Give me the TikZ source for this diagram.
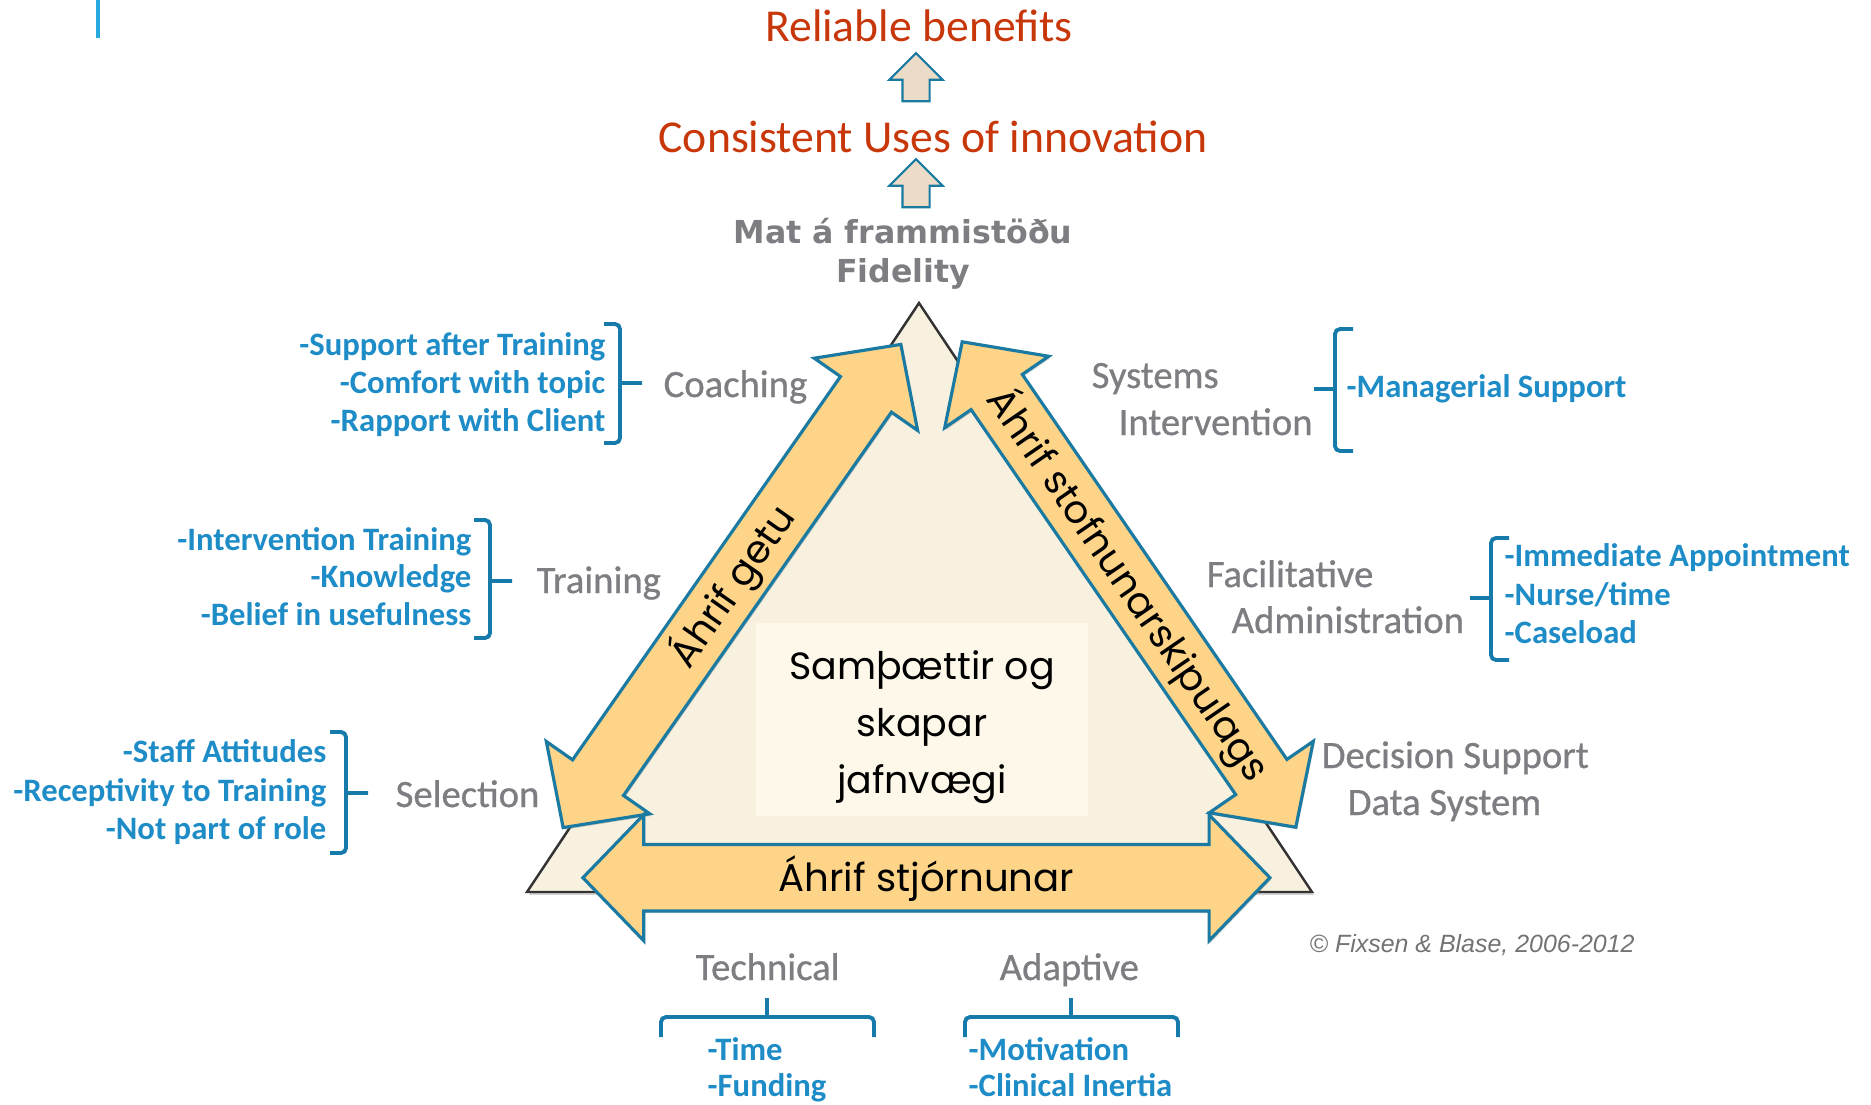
\documentclass[tikz,border=0pt]{standalone}
\usepackage{fontspec}
\setmainfont{Carlito}
\newfontfamily\labelfont[FakeBold=0.7]{Carlito}
\newfontfamily\geofont{Poppins}
\newfontfamily\verdfont{DejaVu Sans}
\newfontfamily\copyfont{Liberation Sans}
\usetikzlibrary{shapes.arrows,shadows}

\definecolor{titlered}{RGB}{200,55,10}
\definecolor{itemblue}{RGB}{30,140,198}
\definecolor{brakblue}{RGB}{22,122,170}
\definecolor{edgeblue}{RGB}{26,122,162}
\definecolor{labelgray}{RGB}{125,125,130}
\definecolor{arrowfill}{RGB}{253,212,136}
\definecolor{trifill}{RGB}{248,241,224}
\definecolor{boxfill}{RGB}{254,248,234}
\definecolor{upfill}{RGB}{235,220,200}
\definecolor{topline}{RGB}{40,170,225}

\tikzset{
  headline/.style={font=\fontsize{13pt}{15pt}\selectfont, text=titlered, inner sep=0pt},
  fid/.style={font=\verdfont\bfseries\fontsize{9pt}{11pt}\selectfont, text=labelgray, inner sep=0pt},
  grp/.style={font=\labelfont\fontsize{11pt}{13pt}\selectfont, text=labelgray, inner sep=0pt},
  itm/.style={font=\bfseries\fontsize{9.3pt}{11pt}\selectfont, text=itemblue, inner sep=0pt},
  copyr/.style={font=\copyfont\itshape\fontsize{7.1pt}{9pt}\selectfont, text=black!55, inner sep=0pt},
  brak/.style={draw=brakblue, line width=1.1pt, rounded corners=0.5mm},
  tri/.style={draw=black!80, fill=trifill, line width=0.7pt, line join=miter,
    drop shadow={opacity=0.35, shadow xshift=0.5pt, shadow yshift=-0.8pt}},
  centerbox/.style={fill=boxfill, minimum width=33.2mm, minimum height=19.3mm, inner sep=0pt,
    align=center, font=\geofont\fontsize{10.8pt}{16.2pt}\selectfont},
  uparrow/.style={single arrow, draw=edgeblue, fill=upfill, line width=0.6pt, rotate=90,
    minimum height=4.8mm, inner sep=0pt, inner ysep=1.25mm,
    single arrow head extend=1.3mm, single arrow tip angle=90},
  % the text sits in a box of no width, so the arrow keeps its length
  bigarrow/.style={double arrow, draw=edgeblue, fill=arrowfill, line width=0.9pt,
    font=\geofont\fontsize{11pt}{13pt}\selectfont, text height=3.5mm, text depth=0.8mm,
    inner xsep=0pt, inner ysep=0.8mm, double arrow head extend=3.2mm,
    double arrow tip angle=92,
    drop shadow={opacity=0.35, shadow xshift=0.4pt, shadow yshift=-0.6pt}},
}

\begin{document}
\begin{tikzpicture}[x=0.1mm,y=-0.1mm]
\useasboundingbox (0,0) rectangle (1871,1104);
\draw[topline, line width=0.9pt] (98,0) -- (98,38);

% outcomes
\node[headline, anchor=base] (benefits) at (919,41) {Reliable benefits};
\node[headline, anchor=base] (uses) at (933,152) {Consistent Uses of innovation};
\node[uparrow] (up1) at (916,84) {};
\node[uparrow] (up2) at (916,190) {};
\node[fid, anchor=base] (mat) at (903,243) {Mat á frammistöðu};
\node[fid, anchor=base] (fidelity) at (903,282) {Fidelity};

% the triangle
\draw[tri] (527,892) -- (1312,892) -- (919,303) -- cycle;
\node[centerbox] (balance) at (922,719) {\rule{0pt}{4.6mm}Samþættir og\\skapar\\jafnvægi};

% drivers along the sides
\node[bigarrow, minimum height=58.95mm, rotate=55.05] (competency) at (732,586)
  {\makebox[0pt]{Áhrif getu}};
\node[bigarrow, minimum height=58.9mm, rotate=-55.5] (organization) at (1129,584.5)
  {\makebox[0pt]{Áhrif stofnunarskipulags}};
\node[bigarrow, minimum height=68.7mm, inner ysep=1.02mm, double arrow head extend=2.97mm] (leadership) at (926.4,877.7)
  {\makebox[0pt]{Áhrif stjórnunar}};

% component names
\node[grp, anchor=base west] (coaching) at (663,397) {Coaching};
\node[grp, anchor=base west] (training) at (536,593) {Training};
\node[grp, anchor=base west] (selection) at (395,807) {Selection};
\node[grp, anchor=base west] (systems) at (1091,388) {Systems};
\node[grp, anchor=base west] (intervention) at (1118,435) {Intervention};
\node[grp, anchor=base west] (facilitative) at (1206,587) {Facilitative};
\node[grp, anchor=base west] (administration) at (1231,633) {Administration};
\node[grp, anchor=base west] (decision) at (1321,768) {Decision Support};
\node[grp, anchor=base west] (datasystem) at (1347,815) {Data System};
\node[grp, anchor=base west] (technical) at (695,980) {Technical};
\node[grp, anchor=base west] (adaptive) at (999,980) {Adaptive};

% items per component
\foreach \t [count=\i] in {-Support after Training,-Comfort with topic,-Rapport with Client}
  \node[itm, anchor=base east] (coach\i) at (606,317+38*\i) {\t};
\foreach \t [count=\i] in {-Intervention Training,-Knowledge,-Belief in usefulness}
  \node[itm, anchor=base east] (train\i) at (472,512.5+37.5*\i) {\t};
\foreach \t [count=\i] in {-Staff Attitudes,-Receptivity to Training,-Not part of role}
  \node[itm, anchor=base east] (select\i) at (327,724+38.5*\i) {\t};
\node[itm, anchor=base west] (managerial) at (1346,397) {-Managerial Support};
\foreach \t [count=\i] in {-Immediate Appointment,-Nurse/time,-Caseload}
  \node[itm, anchor=base west] (facil\i) at (1504,528.5+38.3*\i) {\t};
\foreach \t [count=\i] in {-Time,-Funding}
  \node[itm, anchor=base west] (tech\i) at (707,1023.3+36.7*\i) {\t};
\foreach \t [count=\i] in {-Motivation,-Clinical Inertia}
  \node[itm, anchor=base west] (adapt\i) at (968,1023.3+36.7*\i) {\t};

% brackets
\foreach \x/\y/\t/\b in {620/383/59/60, 490/581/61/57, 346/793/61/60}
  \draw[brak, shift={(\x,\y)}] (-16,-\t) -- (0,-\t) -- (0,\b) -- (-16,\b) (0,0) -- (22,0);
\foreach \x/\y in {1335/389, 1491/598}
  \draw[brak, shift={(\x,\y)}] (18,-60) -- (0,-60) -- (0,62) -- (18,62) (0,0) -- (-21,0);
\foreach \x in {767,1071}
  \draw[brak, shift={(\x,1017)}] (-106,20) -- (-106,0) -- (107,0) -- (107,20) (0,0) -- (0,-19);

\node[copyr, anchor=base west] (copy) at (1309,952) {© Fixsen \& Blase, 2006-2012};
\end{tikzpicture}
\end{document}
